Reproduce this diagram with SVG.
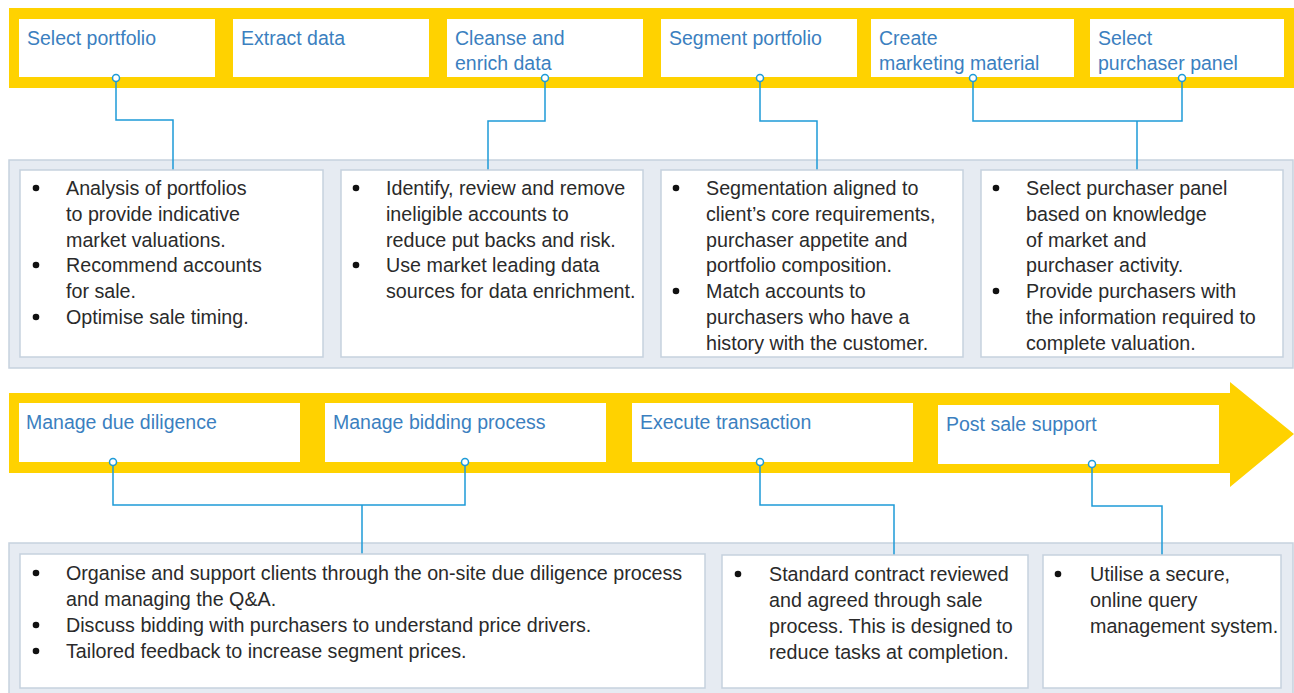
<svg xmlns="http://www.w3.org/2000/svg" width="1294" height="693" viewBox="0 0 1294 693">
<style>
.band{fill:#ffd200}
.hbox{fill:#ffffff}
.htxt{font-family:"Liberation Sans",Arial,sans-serif;font-size:19.5px;fill:#3b7fc0}
.panel{fill:#e6ebf2;stroke:#c6d2de;stroke-width:1.5}
.dbox{fill:#ffffff;stroke:#c6d2de;stroke-width:1.5}
.dtxt{font-family:"Liberation Sans",Arial,sans-serif;font-size:19.7px;fill:#2a2a2a}
.bul{fill:#111111}
.conn{fill:none;stroke:#1e9bd7;stroke-width:1.5}
.dot{fill:#ffffff;stroke:#1e9bd7;stroke-width:1.5}
</style>
<rect width="1294" height="693" fill="#ffffff"/>
<!-- bands and panels -->
<rect class="band" x="9" y="8" width="1285" height="80"/>
<polygon class="band" points="9,393 1230,393 1230,382 1294,434 1230,487 1230,473 9,473"/>
<rect class="panel" x="9" y="160" width="1284" height="208"/>
<rect class="panel" x="9" y="543" width="1284" height="160"/>

<!-- connectors -->
<g id="connectors">
<path class="conn" d="M116,78 V120 H173 V170"/>
<path class="conn" d="M545,78 V121 H488 V170"/>
<path class="conn" d="M760,78 V121 H817 V170"/>
<path class="conn" d="M973,78 V121 H1182 V78 M1137,121 V170"/>
<path class="conn" d="M113,462 V505 H465 V462 M362,505 V554"/>
<path class="conn" d="M760,462 V505 H894 V555"/>
<path class="conn" d="M1092,464 V506 H1162 V555"/>
</g>

<!-- top stage headers -->
<g id="stage-select-portfolio"><rect class="hbox" x="19" y="19" width="196" height="58"/><text class="htxt" x="27" y="45">Select portfolio</text></g>
<g id="stage-extract-data"><rect class="hbox" x="233" y="19" width="196" height="58"/><text class="htxt" x="241" y="45">Extract data</text></g>
<g id="stage-cleanse"><rect class="hbox" x="447" y="19" width="196" height="58"/><text class="htxt" x="455" y="45">Cleanse and</text><text class="htxt" x="455" y="70">enrich data</text></g>
<g id="stage-segment"><rect class="hbox" x="661" y="19" width="196" height="58"/><text class="htxt" x="669" y="45">Segment portfolio</text></g>
<g id="stage-marketing"><rect class="hbox" x="871" y="19" width="203" height="58"/><text class="htxt" x="879" y="45">Create</text><text class="htxt" x="879" y="70">marketing material</text></g>
<g id="stage-panel"><rect class="hbox" x="1090" y="19" width="194" height="58"/><text class="htxt" x="1098" y="45">Select</text><text class="htxt" x="1098" y="70">purchaser panel</text></g>

<!-- bottom stage headers -->
<g id="stage-due-diligence"><rect class="hbox" x="19" y="403" width="281" height="59"/><text class="htxt" x="26" y="429">Manage due diligence</text></g>
<g id="stage-bidding"><rect class="hbox" x="325" y="403" width="281" height="59"/><text class="htxt" x="333" y="429">Manage bidding process</text></g>
<g id="stage-execute"><rect class="hbox" x="632" y="403" width="281" height="59"/><text class="htxt" x="640" y="429">Execute transaction</text></g>
<g id="stage-post-sale"><rect class="hbox" x="938" y="405" width="281" height="59"/><text class="htxt" x="946" y="431">Post sale support</text></g>

<!-- connector end dots -->
<g id="connector-dots">
<circle class="dot" cx="116" cy="78" r="3.5"/>
<circle class="dot" cx="545" cy="78" r="3.5"/>
<circle class="dot" cx="760" cy="78" r="3.5"/>
<circle class="dot" cx="973" cy="78" r="3.5"/>
<circle class="dot" cx="1182" cy="78" r="3.5"/>
<circle class="dot" cx="113" cy="462" r="3.5"/>
<circle class="dot" cx="465" cy="462" r="3.5"/>
<circle class="dot" cx="760" cy="462" r="3.5"/>
<circle class="dot" cx="1092" cy="464" r="3.5"/>
</g>

<!-- top detail boxes -->
<g id="detail-portfolio">
<rect class="dbox" x="20" y="170" width="303" height="187"/>
<circle class="bul" cx="36" cy="188" r="3.3"/>
<text class="dtxt" x="66" y="195">Analysis of portfolios</text>
<text class="dtxt" x="66" y="221">to provide indicative</text>
<text class="dtxt" x="66" y="247">market valuations.</text>
<circle class="bul" cx="36" cy="265" r="3.3"/>
<text class="dtxt" x="66" y="272">Recommend accounts</text>
<text class="dtxt" x="66" y="298">for sale.</text>
<circle class="bul" cx="36" cy="317" r="3.3"/>
<text class="dtxt" x="66" y="324">Optimise sale timing.</text>
</g>
<g id="detail-cleanse">
<rect class="dbox" x="341" y="170" width="302" height="187"/>
<circle class="bul" cx="356" cy="188" r="3.3"/>
<text class="dtxt" x="386" y="195">Identify, review and remove</text>
<text class="dtxt" x="386" y="221">ineligible accounts to</text>
<text class="dtxt" x="386" y="247">reduce put backs and risk.</text>
<circle class="bul" cx="356" cy="265" r="3.3"/>
<text class="dtxt" x="386" y="272">Use market leading data</text>
<text class="dtxt" x="386" y="298">sources for data enrichment.</text>
</g>
<g id="detail-segment">
<rect class="dbox" x="661" y="170" width="302" height="187"/>
<circle class="bul" cx="676" cy="188" r="3.3"/>
<text class="dtxt" x="706" y="195">Segmentation aligned to</text>
<text class="dtxt" x="706" y="221">client’s core requirements,</text>
<text class="dtxt" x="706" y="247">purchaser appetite and</text>
<text class="dtxt" x="706" y="272">portfolio composition.</text>
<circle class="bul" cx="676" cy="291" r="3.3"/>
<text class="dtxt" x="706" y="298">Match accounts to</text>
<text class="dtxt" x="706" y="324">purchasers who have a</text>
<text class="dtxt" x="706" y="350">history with the customer.</text>
</g>
<g id="detail-panel">
<rect class="dbox" x="981" y="170" width="302" height="187"/>
<circle class="bul" cx="996" cy="188" r="3.3"/>
<text class="dtxt" x="1026" y="195">Select purchaser panel</text>
<text class="dtxt" x="1026" y="221">based on knowledge</text>
<text class="dtxt" x="1026" y="247">of market and</text>
<text class="dtxt" x="1026" y="272">purchaser activity.</text>
<circle class="bul" cx="996" cy="291" r="3.3"/>
<text class="dtxt" x="1026" y="298">Provide purchasers with</text>
<text class="dtxt" x="1026" y="324">the information required to</text>
<text class="dtxt" x="1026" y="350">complete valuation.</text>
</g>

<!-- bottom detail boxes -->
<g id="detail-due-diligence">
<rect class="dbox" x="20" y="554" width="685" height="134"/>
<circle class="bul" cx="36" cy="573" r="3.3"/>
<text class="dtxt" x="66" y="580">Organise and support clients through the on-site due diligence process</text>
<text class="dtxt" x="66" y="606">and managing the Q&amp;A.</text>
<circle class="bul" cx="36" cy="625" r="3.3"/>
<text class="dtxt" x="66" y="632">Discuss bidding with purchasers to understand price drivers.</text>
<circle class="bul" cx="36" cy="651" r="3.3"/>
<text class="dtxt" x="66" y="658">Tailored feedback to increase segment prices.</text>
</g>
<g id="detail-execute">
<rect class="dbox" x="722" y="555" width="306" height="133"/>
<circle class="bul" cx="738" cy="574" r="3.3"/>
<text class="dtxt" x="769" y="581">Standard contract reviewed</text>
<text class="dtxt" x="769" y="607">and agreed through sale</text>
<text class="dtxt" x="769" y="633">process. This is designed to</text>
<text class="dtxt" x="769" y="659">reduce tasks at completion.</text>
</g>
<g id="detail-post-sale">
<rect class="dbox" x="1043" y="555" width="238" height="133"/>
<circle class="bul" cx="1058" cy="574" r="3.3"/>
<text class="dtxt" x="1090" y="581">Utilise a secure,</text>
<text class="dtxt" x="1090" y="607">online query</text>
<text class="dtxt" x="1090" y="633">management system.</text>
</g>
</svg>
